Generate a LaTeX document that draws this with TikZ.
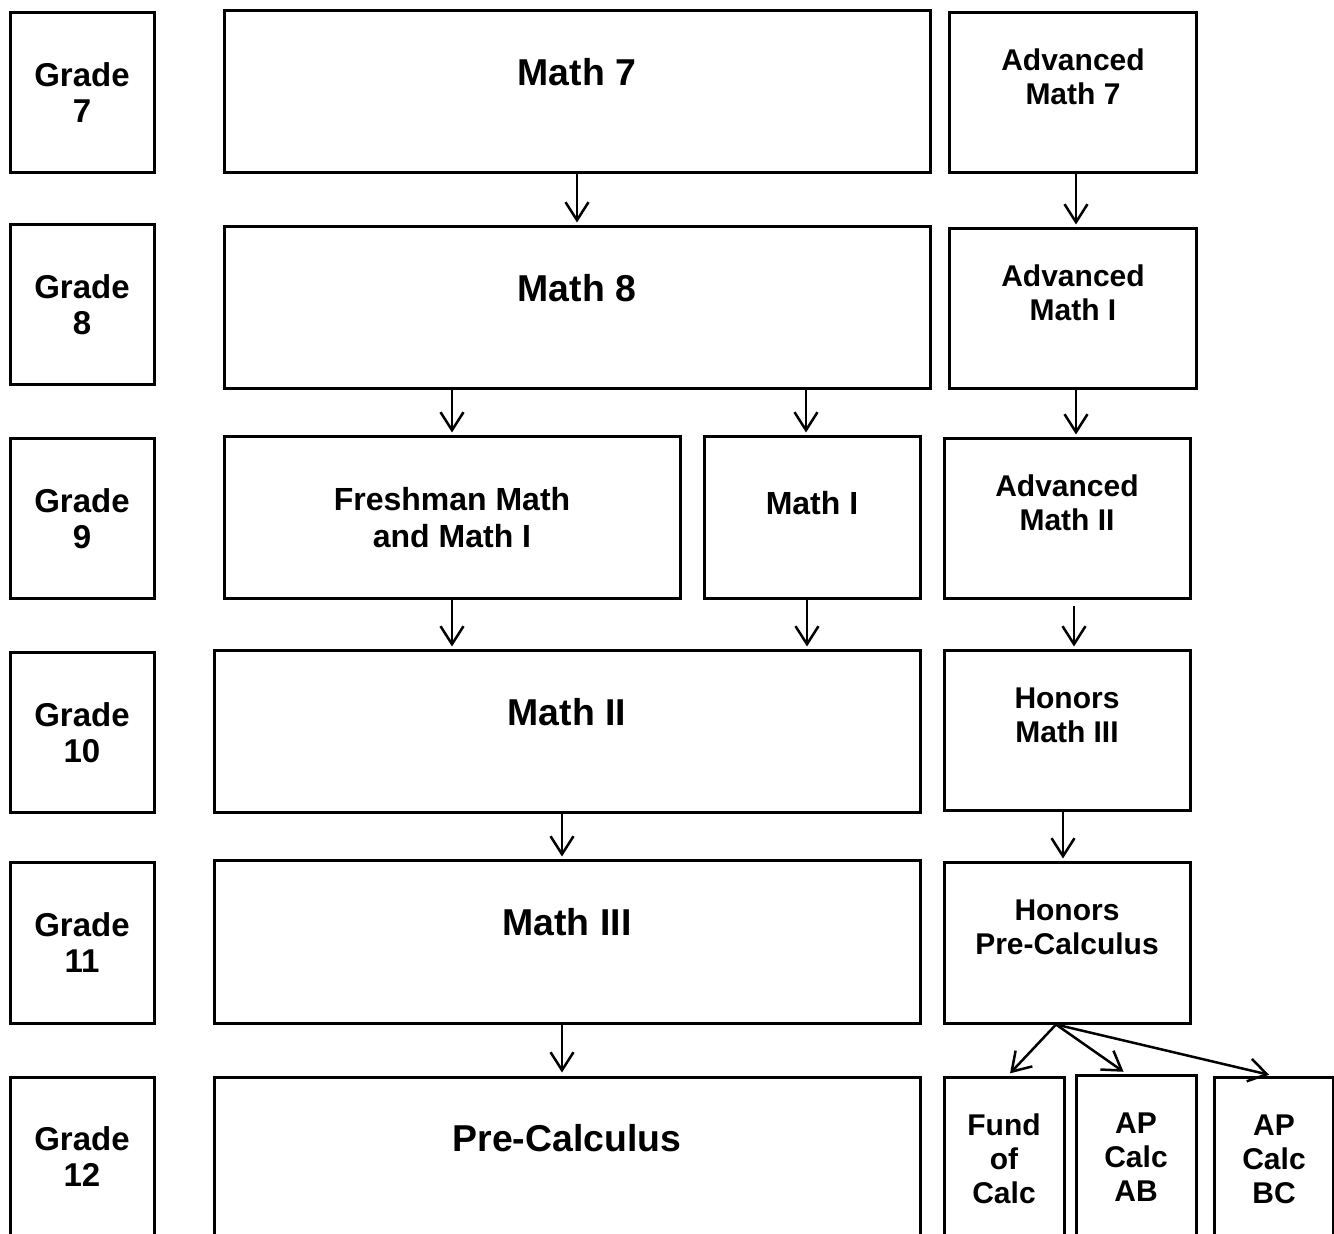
\documentclass[tikz,border=0pt]{standalone}
\usepackage{fontspec}
\setmainfont{Liberation Sans}
\usetikzlibrary{arrows.meta,fit}
\tikzset{
  box/.style={draw, line width=1.5pt, inner sep=0pt},
  arr/.style={-{Straight Barb[length=9pt,width=11.5pt]}, line width=1.25pt, shorten >=1.5pt},
  grade/.style={font=\fontsize{16.5}{18}\selectfont\bfseries, align=center, inner sep=0pt},
  big/.style={font=\fontsize{18.7}{21}\selectfont\bfseries, align=center, inner sep=0pt},
  mid/.style={font=\fontsize{16}{18.5}\selectfont\bfseries, align=center, inner sep=0pt},
  small/.style={font=\fontsize{15}{17}\selectfont\bfseries, align=center, inner sep=0pt},
}
\newcommand\mybox[5]{%
  \coordinate (#1-a) at (#2,#3);
  \coordinate (#1-b) at (#4,#5);
  \node[box, fit=(#1-a)(#1-b)] (#1) {};}
\begin{document}
\begin{tikzpicture}[x=0.5pt,y=-0.5pt]
\useasboundingbox (0,0) rectangle (1334,1234);
\clip (0,0) rectangle (1334,1234);
% grade column
\mybox{g7}{10}{13}{154}{173}
\mybox{g8}{10}{225}{154}{385}
\mybox{g9}{10}{439}{154}{599}
\mybox{g10}{10}{653}{154}{813}
\mybox{g11}{10}{863}{154}{1023}
\mybox{g12}{10}{1077}{154}{1260}
\node[grade] (g7t) at (82,93) {Grade\\7};
\node[grade] (g8t) at (82,305) {Grade\\8};
\node[grade] (g9t) at (82,519) {Grade\\9};
\node[grade] (g10t) at (82,733) {Grade\\10};
\node[grade] (g11t) at (82,943) {Grade\\11};
\node[grade] (g12t) at (82,1157) {Grade\\12};
% main column
\mybox{m7}{224}{11}{930}{173}
\mybox{m8}{224}{227}{930}{389}
\mybox{fr}{224}{437}{680}{599}
\mybox{mi}{704}{437}{920}{599}
\mybox{m2}{214}{651}{920}{813}
\mybox{m3}{214}{861}{920}{1023}
\mybox{pc}{214}{1077}{920}{1260}
\node[big] (m7t) at (577,72) {Math 7};
\node[big] (m8t) at (577,288) {Math 8};
\node[mid] (frt) at (452,518) {Freshman Math\\and Math I};
\node[mid] (mit) at (812,503) {Math I};
\node[big] (m2t) at (567,712) {Math II};
\node[big] (m3t) at (567,922) {Math III};
\node[big] (pct) at (567,1138) {Pre-Calculus};
% advanced column
\mybox{a7}{949}{13}{1196}{173}
\mybox{a1}{949}{229}{1196}{389}
\mybox{a2}{944}{439}{1190}{599}
\mybox{h3}{944}{651}{1190}{811}
\mybox{hp}{944}{863}{1190}{1023}
\mybox{fc}{944}{1077}{1064}{1260}
\mybox{ab}{1076}{1075}{1196}{1260}
\mybox{bc}{1214}{1077}{1333}{1260}
\node[small] (a7t) at (1073,77) {Advanced\\Math 7};
\node[small] (a1t) at (1073,293) {Advanced\\Math I};
\node[small] (a2t) at (1067,503) {Advanced\\Math II};
\node[small] (h3t) at (1067,715) {Honors\\Math III};
\node[small] (hpt) at (1067,927) {Honors\\Pre-Calculus};
\node[small] (fct) at (1004,1159) {Fund\\of\\Calc};
\node[small] (abt) at (1136,1157) {AP\\Calc\\AB};
\node[small] (bct) at (1274,1159) {AP\\Calc\\BC};
% arrows
\draw[arr] (m7.south) -- (m7.south |- m8.north);
\coordinate (s1) at ([xshift=1.75pt]a7.south);
\draw[arr] (s1) -- (s1 |- a1.north);
\draw[arr] (fr.north |- m8.south) -- (fr.north);
\coordinate (s2) at ([xshift=-3pt]mi.north);
\draw[arr] (s2 |- m8.south) -- (s2);
\coordinate (s3) at ([xshift=1.75pt]a1.south);
\draw[arr] (s3) -- (s3 |- a2.north);
\draw[arr] (fr.south) -- (fr.south |- m2.north);
\coordinate (s4) at ([xshift=-2.5pt]mi.south);
\draw[arr] (s4) -- (s4 |- m2.north);
\coordinate (s5) at ([xshift=3.5pt,yshift=-3pt]a2.south);
\draw[arr] (s5) -- (s5 |- h3.north);
\coordinate (s6) at ([xshift=-2.5pt]m2.south);
\draw[arr] (s6) -- (s6 |- m3.north);
\coordinate (s7) at ([xshift=-2pt]h3.south);
\draw[arr] (s7) -- (s7 |- hp.north);
\coordinate (s8) at ([xshift=-2.5pt]m3.south);
\draw[arr] (s8) -- (s8 |- pc.north);
\coordinate (s9) at ([xshift=-5.5pt]hp.south);
\draw[arr] (s9) -- ([xshift=2pt]fc.north);
\draw[arr] (s9) -- ([xshift=-5pt]ab.north);
\draw[arr] (s9) -- ([xshift=-0.75pt]bc.north);
\end{tikzpicture}
\end{document}
